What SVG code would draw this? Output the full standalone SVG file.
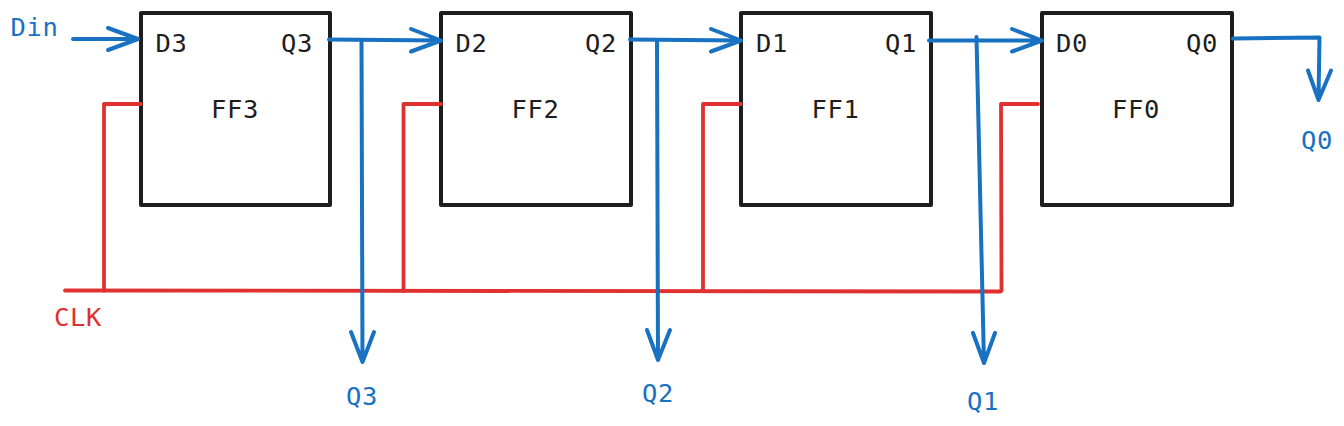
<svg xmlns="http://www.w3.org/2000/svg" width="1344" height="426" viewBox="0 0 1344 426">
<style>
text{font-family:"DejaVu Sans Mono","Liberation Mono",monospace;font-size:25.5px;letter-spacing:.65px}
.k{fill:#1e1e1e}.b{fill:#1971c2}.r{fill:#e03131}
.box{fill:#fff;stroke:#1e1e1e;stroke-width:4;stroke-linejoin:round}
.w{fill:none;stroke-width:4;stroke-linecap:round;stroke-linejoin:round}
.wb{stroke:#1971c2}.wr{stroke:#e03131;stroke-width:3.800}
</style>
<rect width="1344" height="426" fill="#fff"/>
<g id="FF3"><rect class="box" x="141" y="13" width="189" height="192"/>
<text class="k" x="155.500" y="51.500">D3</text><text class="k" x="281" y="51.500">Q3</text><text class="k" x="211" y="117.500">FF3</text></g>
<g id="FF2"><rect class="box" x="441" y="13" width="190" height="192"/>
<text class="k" x="455.500" y="51.500">D2</text><text class="k" x="585" y="51.500">Q2</text><text class="k" x="511.500" y="117.500">FF2</text></g>
<g id="FF1"><rect class="box" x="741" y="13" width="190" height="192"/>
<text class="k" x="756" y="51.500">D1</text><text class="k" x="885" y="51.500">Q1</text><text class="k" x="811.500" y="117.500">FF1</text></g>
<g id="FF0"><rect class="box" x="1042" y="13" width="190" height="192"/>
<text class="k" x="1056" y="51.500">D0</text><text class="k" x="1186" y="51.500">Q0</text><text class="k" x="1112" y="117.500">FF0</text></g>
<g id="connectors">
<g class="w wr">
<path d="M65 290.500L1000 291.500Q1001.500 291.500 1001.500 290L1001 104H1038"/>
<path d="M104 290.500V104H141"/>
<path d="M403.500 291V104H441"/>
<path d="M703 291V104H741"/>
</g>
<g class="w wb">
<path d="M73 39H138M108 28L138 39L108 50"/>
<path d="M329 39.500L441 40.500M411 29L441 40.500L411 51.500"/>
<path d="M361.500 40L362.500 362M351 332L362.500 362L374 332"/>
<path d="M630 39.500L741 40.500M711 29L741 40.500L711 51.500"/>
<path d="M657 40L658 360M647 330L658 360L670 330"/>
<path d="M929 40.500H1042M1012 29L1042 40.500L1012 51.500"/>
<path d="M976.500 37L984 363M973 333L984 363L995 333"/>
<path d="M1233 38.500L1319.500 37.500L1318.500 100M1308 70.500L1318.500 100L1331 70.500"/>
</g>
</g>
<g id="labels">
<text class="b" x="10.500" y="36">Din</text>
<text class="r" x="54" y="325.500">CLK</text>
<text class="b" x="346" y="404.500">Q3</text>
<text class="b" x="642" y="402">Q2</text>
<text class="b" x="967" y="409.500">Q1</text>
<text class="b" x="1301" y="148.500">Q0</text>
</g>
</svg>
